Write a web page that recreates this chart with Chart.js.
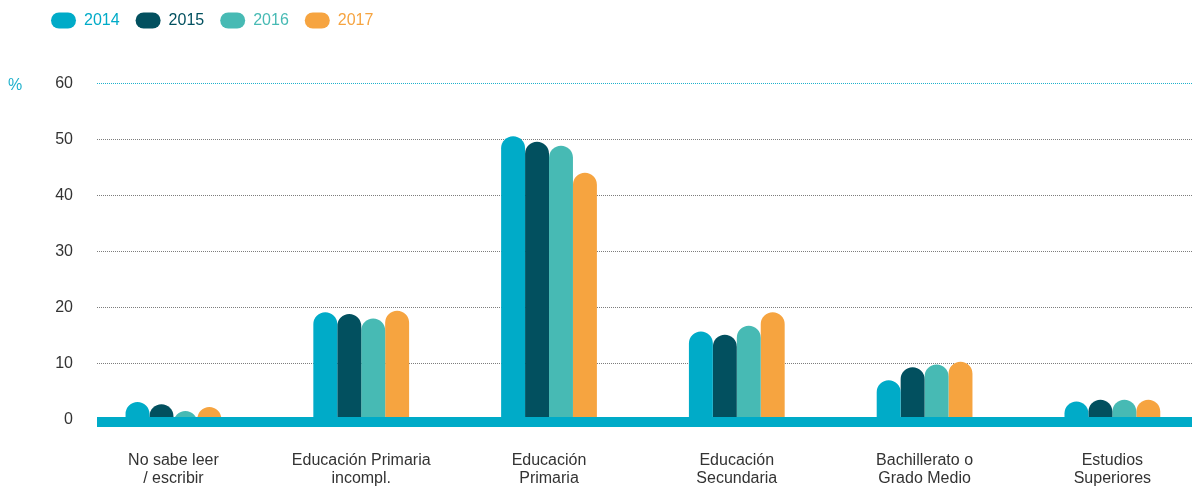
<!DOCTYPE html>
<html lang="es">
<head>
<meta charset="utf-8">
<title>Nivel de estudios</title>
<script src="https://cdn.jsdelivr.net/npm/chart.js@4.4.1/dist/chart.umd.min.js"></script>
<style>
    html, body {
        margin: 0;
        padding: 0;
        background: #ffffff;
    }
    #wrap {
        position: relative;
        width: 1192px;
        height: 486px;
    }
</style>
</head>
<body>
<div id="wrap">
    <canvas id="studiesChart"></canvas>
</div>
<script>
const categories = [
    ['No sabe leer', '/ escribir'],
    ['Educación Primaria', 'incompl.'],
    ['Educación', 'Primaria'],
    ['Educación', 'Secundaria'],
    ['Bachillerato o', 'Grado Medio'],
    ['Estudios', 'Superiores'],
];

const years = ['2014', '2015', '2016', '2017'];

const values2014 = [3.2, 19.2, 50.6, 15.8, 7.1, 3.3];
const values2015 = [2.8, 18.9, 49.6, 15.2, 9.4, 3.6];
const values2016 = [1.6, 18.1, 48.9, 16.8, 9.9, 3.6];
const values2017 = [2.3, 19.5, 44.1, 19.2, 10.4, 3.6];

const yTicks = [0, 10, 20, 30, 40, 50, 60];

const seriesColors = ['#00abc8', '#02505f', '#47bab4', '#f6a440'];
const bandColor = '#00abc8';
const topLineColor = '#1fb1cc';
const gridColor = '#7d7d7d';
const textColor = '#333333';

Chart.defaults.font.family = "'Liberation Sans', Arial, sans-serif";
Chart.defaults.font.size = 16;

const toPoints = (values) => values.map((y, x) => ({ x, y }));

const series = [values2014, values2015, values2016, values2017];

// pushes the plot down under the legend
const legendGap = {
    id: 'legendGap',
    afterInit(chart) {
        const fit = chart.legend.fit;
        chart.legend.fit = function () {
            fit.call(this);
            this.height += 45;
        };
    },
};

// thick baseline band + the "%" unit next to the top tick
const baselineBand = {
    id: 'baselineBand',
    afterDatasetsDraw(chart) {
        const { ctx, chartArea, scales } = chart;
        const zero = scales.y.getPixelForValue(0);
        ctx.save();
        ctx.fillStyle = bandColor;
        ctx.fillRect(chartArea.left, zero - 3, chartArea.right - chartArea.left, 10);
        ctx.fillStyle = topLineColor;
        ctx.font = "16px 'Liberation Sans', Arial, sans-serif";
        ctx.textAlign = 'left';
        ctx.textBaseline = 'middle';
        ctx.fillText('%', 8, scales.y.getPixelForValue(yTicks[yTicks.length - 1]) + 2);
        ctx.restore();
    },
};

new Chart(document.getElementById('studiesChart'), {
    type: 'bar',
    data: {
        datasets: years.map((year, i) => ({
            label: year,
            data: toPoints(series[i]),
            backgroundColor: seriesColors[i],
            borderWidth: 0,
            borderRadius: 20,
            borderSkipped: 'start',
            base: -3,
            clip: 0,
            categoryPercentage: 0.51,
            barPercentage: 1,
        })),
    },
    options: {
        responsive: true,
        maintainAspectRatio: false,
        animation: false,
        layout: {
            padding: { top: -3.5, left: 35, right: 0, bottom: 0 },
        },
        plugins: {
            tooltip: { enabled: false },
            legend: {
                position: 'top',
                align: 'start',
                labels: {
                    boxWidth: 25,
                    boxHeight: 16,
                    padding: 16,
                    useBorderRadius: true,
                    borderRadius: 8,
                    font: { size: 16 },
                    generateLabels: (chart) => {
                        const items = Chart.defaults.plugins.legend.labels.generateLabels(chart);
                        items.forEach((item, i) => {
                            item.fontColor = seriesColors[i];
                            item.lineWidth = 0;
                        });
                        return items;
                    },
                },
            },
        },
        scales: {
            x: {
                type: 'linear',
                min: -0.407,
                max: 5.424,
                offset: false,
                grid: { display: false, offset: false },
                border: { display: false },
                afterBuildTicks: (axis) => {
                    axis.ticks = categories.map((_, i) => ({ value: i }));
                },
                afterFit: (axis) => {
                    axis.height = 66;
                },
                ticks: {
                    autoSkip: false,
                    maxRotation: 0,
                    padding: 23,
                    color: textColor,
                    font: { size: 16, lineHeight: 1.15 },
                    callback: (value) => categories[value],
                },
            },
            y: {
                min: yTicks[0],
                max: yTicks[yTicks.length - 1],
                afterBuildTicks: (axis) => {
                    axis.ticks = yTicks.map((value) => ({ value }));
                },
                afterFit: (axis) => {
                    axis.width = 62;
                },
                grid: {
                    drawTicks: false,
                    lineWidth: 1,
                    color: (ctx) => (ctx.tick && ctx.tick.value === 60 ? topLineColor : gridColor),
                },
                border: { display: false, dash: [1, 1] },
                ticks: {
                    padding: 24,
                    color: textColor,
                    font: { size: 16 },
                },
            },
        },
    },
    plugins: [legendGap, baselineBand],
});
</script>
</body>
</html>
